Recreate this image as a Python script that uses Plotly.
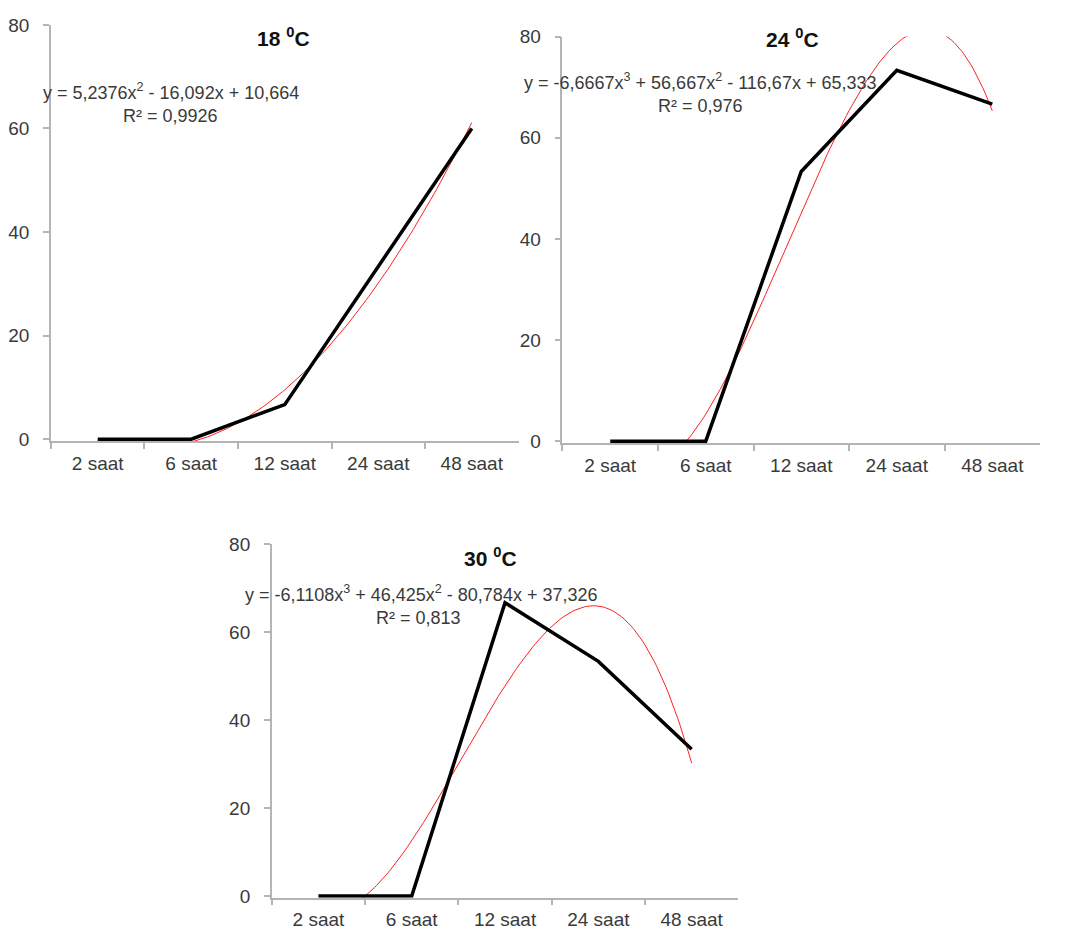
import numpy as np
import plotly.graph_objects as go

categories = ["2 saat", "6 saat", "12 saat", "24 saat", "48 saat"]
x_pos = [1, 2, 3, 4, 5]
vals_18 = [0, 0, 6.667, 33.333, 60.0]
vals_24 = [0, 0, 53.333, 73.333, 66.667]
vals_30 = [0, 0, 66.667, 53.333, 33.333]
titles = ["<b>18 <sup>0</sup>C</b>", "<b>24 <sup>0</sup>C</b>", "<b>30 <sup>0</sup>C</b>"]
equations = ["y = 5,2376x<sup>2</sup> - 16,092x + 10,664",
             "y = -6,6667x<sup>3</sup> + 56,667x<sup>2</sup> - 116,67x + 65,333",
             "y = -6,1108x<sup>3</sup> + 46,425x<sup>2</sup> - 80,784x + 37,326"]
r2_texts = ["R² = 0,9926", "R² = 0,976", "R² = 0,813"]
degrees = [2, 3, 3]
y_ticks = [0, 20, 40, 60, 80]

OFF = 8  # page body margin
W, H = 1072, 934
# panel boxes in reference pixels: (left, right, top, bottom)
boxes = [(50, 518, 15, 440), (562, 1040, 27, 442), (271, 738, 545, 906)]
title_pos = [(283, 27), (792, 28), (490, 558)]
eq_pos = [(170, 83), (700, 73), (420, 595)]
r2_pos = [(170, 108), (700, 98), (418, 620)]

def px(xv):
    return (xv - OFF) / W

def py(yv):
    return (H - (yv - OFF)) / H

FONT = "Liberation Sans, Arial, sans-serif"
TXT = "#3a3a3a"
AX = "#b4b4b4"

fig = go.Figure()
series = [vals_18, vals_24, vals_30]
for i, vals in enumerate(series):
    xa = "x" if i == 0 else f"x{i+1}"
    ya = "y" if i == 0 else f"y{i+1}"
    coef = np.polyfit(x_pos, vals, degrees[i])
    xs = np.linspace(1, 5, 161)
    ys = np.polyval(coef, xs)
    fig.add_trace(go.Scatter(x=xs, y=ys, mode="lines", xaxis=xa, yaxis=ya,
                             line=dict(color="#ff2020", width=1), showlegend=False,
                             hoverinfo="skip"))
    fig.add_trace(go.Scatter(x=x_pos, y=vals, mode="lines", xaxis=xa, yaxis=ya,
                             line=dict(color="black", width=3.5), showlegend=False))
    l, r, t, b = boxes[i]
    xk = "xaxis" if i == 0 else f"xaxis{i+1}"
    yk = "yaxis" if i == 0 else f"yaxis{i+1}"
    fig.layout[xk] = dict(domain=[px(l), px(r)], anchor=ya, range=[0.5, 5.5],
                          tickmode="array", tickvals=x_pos, ticktext=categories,
                          ticks="", showgrid=False, zeroline=False,
                          showline=True, linecolor=AX, linewidth=1.5,
                          ticklabelstandoff=4,
                          tickfont=dict(family=FONT, size=19, color=TXT),
                          minor=dict(tickmode="array", tickvals=[0.5, 1.5, 2.5, 3.5, 4.5],
                                     ticks="outside", ticklen=6, tickcolor=AX, tickwidth=1.5,
                                     showgrid=False),
                          fixedrange=True)
    fig.layout[yk] = dict(domain=[py(b), py(t)], anchor=xa, range=[-0.4, 80],
                          tickmode="array", tickvals=y_ticks, ticks="outside", ticklen=6,
                          tickcolor=AX, tickwidth=1.5, showgrid=False, zeroline=False,
                          showline=True, linecolor=AX, linewidth=1.5,
                          ticklabelstandoff=10,
                          tickfont=dict(family=FONT, size=19, color=TXT), fixedrange=True)
    tx, ty = title_pos[i]
    fig.add_annotation(text=titles[i], x=px(tx), y=py(ty), xref="paper", yref="paper",
                       showarrow=False, xanchor="center", yanchor="middle",
                       font=dict(family=FONT, size=21, color="#111"))
    ex, ey = eq_pos[i]
    fig.add_annotation(text=equations[i], x=px(ex), y=py(ey), xref="paper", yref="paper",
                       showarrow=False, xanchor="center", yanchor="middle",
                       font=dict(family=FONT, size=18, color=TXT))
    rx, ry = r2_pos[i]
    fig.add_annotation(text=r2_texts[i], x=px(rx), y=py(ry), xref="paper", yref="paper",
                       showarrow=False, xanchor="center", yanchor="middle",
                       font=dict(family=FONT, size=18, color=TXT))

fig.update_layout(width=W, height=H, margin=dict(l=0, r=0, t=0, b=0),
                  paper_bgcolor="white", plot_bgcolor="white", showlegend=False)
fig.write_html("out.html")
